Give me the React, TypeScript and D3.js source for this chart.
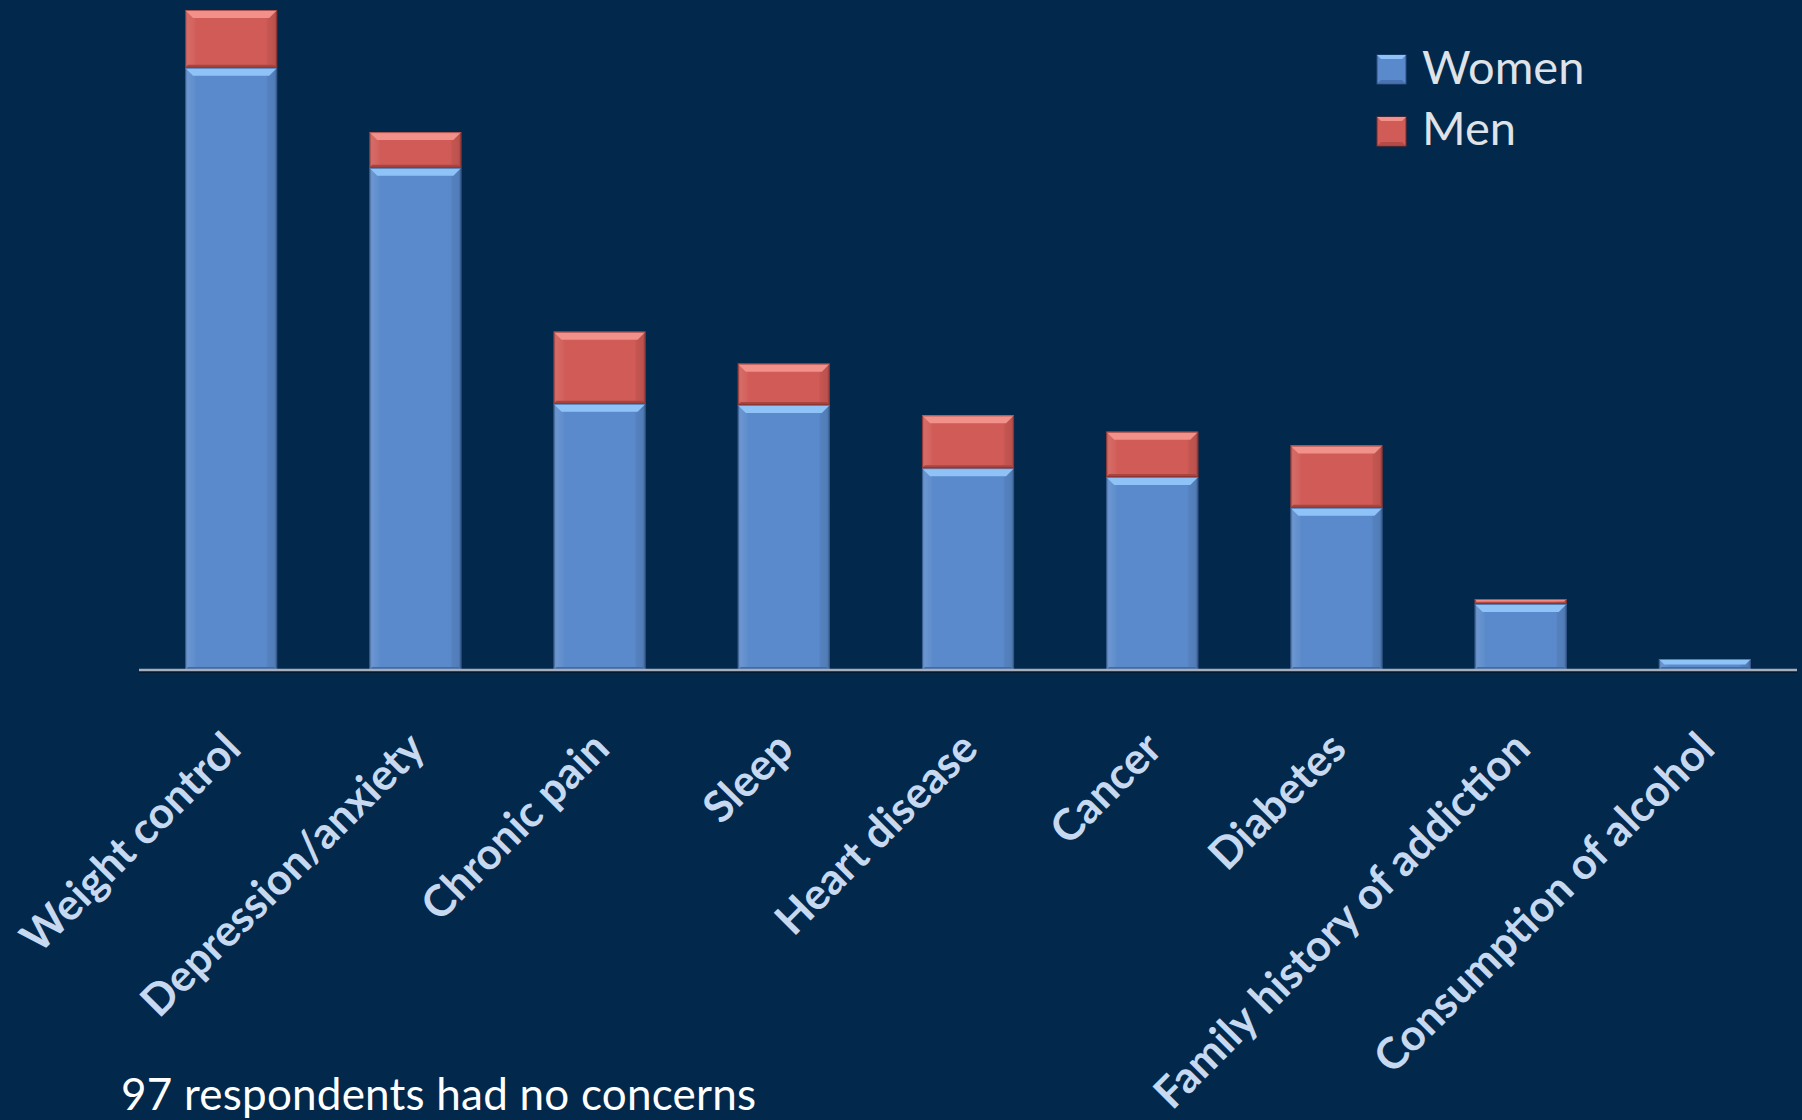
import React from "react";
import * as d3 from "d3";

const categories = [
  "Weight control",
  "Depression/anxiety",
  "Chronic pain",
  "Sleep",
  "Heart disease",
  "Cancer",
  "Diabetes",
  "Family history of addiction",
  "Consumption of alcohol",
];
const women = [109.5, 91.3, 48.4, 48.2, 36.7, 35.1, 29.5, 12, 2];
const men = [10.5, 6.5, 13.1, 7.5, 9.6, 8.2, 11.3, 0.9, 0];
const seriesNames = ["Women", "Men"];
const footnote = "97 respondents had no concerns";

const W = 1802;
const H = 1120;
const BG = "#02284c";

const palette: Record<string, { main: string; light: string; dark: string; edge: string }> = {
  Women: { main: "#5a8acb", light: "#8fc3f7", dark: "#3f6aa5", edge: "#2c4f80" },
  Men: { main: "#d15b56", light: "#f2908a", dark: "#a84541", edge: "#7c2c2a" },
};

function BevelRect({ x, y, w, h, s }: { x: number; y: number; w: number; h: number; s: string }) {
  if (h <= 0) return null;
  const c = palette[s];
  const b = Math.min(8, h / 2);
  const bb = Math.min(3, h / 3);
  return (
    <g>
      <rect x={x} y={y} width={w} height={h} fill={c.main} />
      <rect x={x} y={y} width={w} height={h} fill={`url(#side-${s})`} />
      <polygon
        points={`${x},${y} ${x + w},${y} ${x + w - b},${y + b} ${x + b},${y + b}`}
        fill={c.light}
      />
      <polygon
        points={`${x},${y + h} ${x + w},${y + h} ${x + w - bb},${y + h - bb} ${x + bb},${y + h - bb}`}
        fill={c.dark}
      />
      <rect x={x + 0.5} y={y + 0.5} width={w - 1} height={Math.max(0, h - 1)} fill="none" stroke={c.edge} strokeOpacity={0.6} strokeWidth={1} />
    </g>
  );
}

function LegendSwatch({ x, y, size, s }: { x: number; y: number; size: number; s: string }) {
  const c = palette[s];
  const cx = x + size / 2;
  const cy = y + size / 2;
  const in_ = 4;
  return (
    <g>
      <rect x={x} y={y} width={size} height={size} fill={c.main} stroke={c.edge} strokeWidth={1} />
      <polygon points={`${x},${y} ${x + size},${y} ${cx},${cy}`} fill={c.light} />
      <polygon points={`${x},${y + size} ${x + size},${y + size} ${cx},${cy}`} fill={c.dark} opacity={0.7} />
      <rect x={x + in_} y={y + in_} width={size - 2 * in_} height={size - 2 * in_} fill={c.main} />
    </g>
  );
}

export default function App() {
  const x = d3
    .scaleBand<string>()
    .domain(categories)
    .range([139, 1797])
    .paddingInner(0.5)
    .paddingOuter(0.25);
  const y = d3.scaleLinear().domain([0, 120]).range([670, 10]);

  const rows = categories.map((c, i) => ({ cat: c, Women: women[i], Men: men[i] }));
  const stack = d3.stack<any>().keys(seriesNames)(rows);

  return (
    <svg
      width={W}
      height={H}
      style={{ position: "absolute", left: 0, top: 0, display: "block" }}
      fontFamily="Lato, 'Open Sans', sans-serif"
    >
      <defs>
        {seriesNames.map((s) => (
          <linearGradient key={s} id={`side-${s}`} x1="0" x2="1" y1="0" y2="0">
            <stop offset="0" stopColor="#000" stopOpacity={0.25} />
            <stop offset="0.03" stopColor="#fff" stopOpacity={0.1} />
            <stop offset="0.1" stopColor="#fff" stopOpacity={0.04} />
            <stop offset="0.12" stopColor="#fff" stopOpacity={0} />
            <stop offset="0.88" stopColor="#000" stopOpacity={0} />
            <stop offset="0.9" stopColor="#000" stopOpacity={0.06} />
            <stop offset="0.97" stopColor="#000" stopOpacity={0.1} />
            <stop offset="1" stopColor="#000" stopOpacity={0.3} />
          </linearGradient>
        ))}
      </defs>
      <rect x={0} y={0} width={W} height={H} fill={BG} />

      {/* bars */}
      {stack.map((layer) => (
        <g key={layer.key}>
          {layer.map((d: any, i: number) => {
            const cat = categories[i];
            const y0 = y(d[1]);
            const y1 = y(d[0]);
            return (
              <BevelRect key={cat} x={x(cat)!} y={y0} w={x.bandwidth()} h={y1 - y0} s={layer.key} />
            );
          })}
        </g>
      ))}

      {/* axis line */}
      <line x1={139} x2={1797} y1={y(0) + 2} y2={y(0) + 2} stroke="#000" strokeOpacity={0.35} strokeWidth={2} />
      <line x1={139} x2={1797} y1={y(0)} y2={y(0)} stroke="#a6afbb" strokeWidth={2.5} />

      {/* category labels */}
      {categories.map((c) => {
        const cx = x(c)! + x.bandwidth() / 2;
        const px = cx + 12;
        const py = 751;
        return (
          <text
            key={c}
            transform={`translate(${px},${py}) rotate(-45)`}
            textAnchor="end"
            fontSize={43.5}
            fontWeight="bold"
            fill="#c6d9f1"
          >
            {c}
          </text>
        );
      })}

      {/* legend */}
      {seriesNames.map((s, i) => (
        <g key={s}>
          <LegendSwatch x={1377} y={55 + i * 62} size={29} s={s} />
          <text x={1422} y={84 + i * 61} fontSize={47} fill="#dfe3e8">
            {s}
          </text>
        </g>
      ))}

      {/* footnote */}
      <text x={121} y={1110} fontSize={44} fill="#ffffff" textLength={635} lengthAdjust="spacing">
        {footnote}
      </text>
    </svg>
  );
}
